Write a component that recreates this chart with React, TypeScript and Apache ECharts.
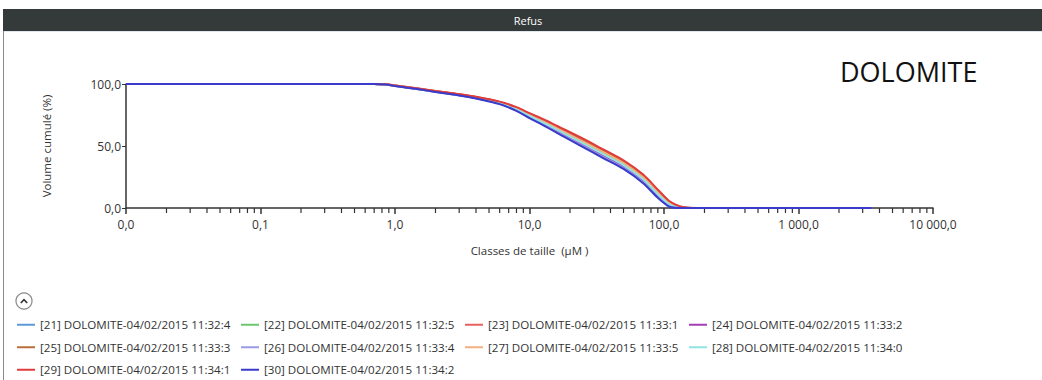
import React, { useEffect, useRef } from "react";
import * as echarts from "echarts";

const sizes = [0.01, 0.7, 0.85, 1, 1.5, 2, 3, 4, 6, 8, 10, 13, 18, 25, 35, 50, 70, 90, 110, 130, 150, 180, 3500];

const seriesNames = [
  "[21] DOLOMITE-04/02/2015 11:32:4",
  "[22] DOLOMITE-04/02/2015 11:32:5",
  "[23] DOLOMITE-04/02/2015 11:33:1",
  "[24] DOLOMITE-04/02/2015 11:33:2",
  "[25] DOLOMITE-04/02/2015 11:33:3",
  "[26] DOLOMITE-04/02/2015 11:33:4",
  "[27] DOLOMITE-04/02/2015 11:33:5",
  "[28] DOLOMITE-04/02/2015 11:34:0",
  "[29] DOLOMITE-04/02/2015 11:34:1",
  "[30] DOLOMITE-04/02/2015 11:34:2",
];

const seriesColors = ["#5b9bd5", "#6cc66c", "#e8625c", "#a53db5", "#b8703a", "#9a9ae8", "#f2b07e", "#93e3e3", "#e23b3b", "#3a3acb"];

const s21 = [100, 100, 99.5, 98.5, 95.8, 93.8, 91.0, 88.6, 84.2, 79.0, 73.4, 67.1, 58.8, 50.6, 42.1, 33.1, 21.6, 9.7, 2.0, 0.3, 0, 0, 0];
const s22 = [100, 100, 99.6, 98.6, 96.0, 94.0, 91.4, 89.1, 84.9, 80.0, 74.7, 68.8, 60.8, 52.9, 44.4, 35.4, 23.9, 11.9, 3.5, 0.8, 0.1, 0, 0];
const s23 = [100, 100, 99.7, 98.8, 96.2, 94.3, 91.7, 89.5, 85.6, 81.0, 76.1, 70.4, 62.8, 55.1, 46.7, 37.7, 26.2, 14.0, 4.9, 1.3, 0.2, 0.1, 0];
const s24 = [100, 100, 99.6, 98.5, 95.9, 93.9, 91.1, 88.8, 84.5, 79.3, 73.8, 67.7, 59.5, 51.4, 42.8, 33.8, 22.3, 10.4, 2.5, 0.4, 0, 0, 0];
const s25 = [100, 100, 99.7, 98.7, 96.2, 94.2, 91.6, 89.4, 85.4, 80.6, 75.6, 69.9, 62.2, 54.4, 45.9, 36.9, 25.4, 13.3, 4.4, 1.1, 0.2, 0, 0];
const s26 = [100, 100, 99.5, 98.4, 95.8, 93.7, 90.9, 88.5, 84.0, 78.6, 72.9, 66.6, 58.2, 49.9, 41.3, 32.3, 20.8, 9.0, 1.5, 0.1, 0, 0, 0];
const s27 = [100, 100, 99.6, 98.7, 96.1, 94.1, 91.5, 89.2, 85.1, 80.3, 75.2, 69.3, 61.5, 53.6, 45.2, 36.2, 24.7, 12.6, 3.9, 1.0, 0.1, 0, 0];
const s28 = [100, 100, 99.6, 98.6, 96.0, 94.0, 91.2, 88.9, 84.7, 79.6, 74.3, 68.2, 60.2, 52.1, 43.6, 34.6, 23.1, 11.1, 3.0, 0.6, 0.1, 0, 0];
const s29 = [100, 100, 99.7, 98.8, 96.3, 94.4, 91.8, 89.7, 85.8, 81.3, 76.5, 71.0, 63.5, 55.9, 47.5, 38.5, 27.0, 14.8, 5.4, 1.5, 0.3, 0.1, 0];
const s30 = [100, 100, 99.5, 98.4, 95.7, 93.6, 90.8, 88.3, 83.8, 78.3, 72.5, 66.0, 57.5, 49.1, 40.5, 31.5, 20.0, 8.2, 1.0, 0.0, 0, 0, 0];

const seriesValues = [s21, s22, s23, s24, s25, s26, s27, s28, s29, s30];

const minorTicks = [
  0.02, 0.03, 0.04, 0.05, 0.06, 0.07, 0.08, 0.09,
  0.2, 0.3, 0.4, 0.5, 0.6, 0.7, 0.8, 0.9,
  2, 3, 4, 5, 6, 7, 8, 9,
  20, 30, 40, 50, 60, 70, 80, 90,
  200, 300, 400, 500, 600, 700, 800, 900,
  2000, 3000, 4000, 5000, 6000, 7000, 8000, 9000,
];

const FONT = "'Open Sans', 'Noto Sans', sans-serif";

function fmt(v: number): string {
  const s = Number(v).toFixed(1);
  const [ip, dp] = s.split(".");
  const grouped = ip.replace(/\B(?=(\d{3})+(?!\d))/g, " ");
  return grouped + "," + dp;
}

export default function App() {
  const ref = useRef<HTMLDivElement>(null);
  useEffect(() => {
    if (!ref.current) return;
    const chart = echarts.init(ref.current, undefined, { renderer: "svg" });
    const lineSeries = seriesNames.map((name, i) => ({
      name,
      type: "line",
      data: sizes.map((x, j) => [x, seriesValues[i][j]]),
      showSymbol: false,
      symbol: "none",
      smooth: 0.3,
      lineStyle: { width: 2, color: seriesColors[i] },
      itemStyle: { color: seriesColors[i] },
      z: 3,
    }));
    const option: any = {
      animation: false,
      backgroundColor: "#ffffff",
      grid: { left: 126, right: 109, top: 84, bottom: 172 },
      xAxis: {
        type: "log",
        logBase: 10,
        min: 0.01,
        max: 10000,
        name: "Classes de taille  (µM )",
        nameLocation: "middle",
        nameGap: 36,
        nameTextStyle: { fontFamily: FONT, fontSize: 11.5, color: "#333" },
        axisLine: { lineStyle: { color: "#333", width: 1.5 } },
        axisTick: { show: true, length: 6, lineStyle: { color: "#333", width: 1.5 } },
        minorTick: { show: false },
        axisLabel: { formatter: (v: number) => fmt(v), fontFamily: FONT, fontSize: 12, color: "#333", margin: 10 },
        splitLine: { show: false },
      },
      yAxis: {
        type: "value",
        min: 0,
        max: 100,
        interval: 50,
        name: "Volume cumulé (%)",
        nameLocation: "middle",
        nameGap: 74,
        nameTextStyle: { fontFamily: FONT, fontSize: 11.5, color: "#333" },
        axisLine: { show: true, lineStyle: { color: "#333", width: 1.5 } },
        axisTick: { show: true, length: 4, lineStyle: { color: "#333", width: 1 } },
        axisLabel: { formatter: (v: number) => fmt(v), fontFamily: FONT, fontSize: 12, color: "#333", margin: 5 },
        splitLine: { show: false },
      },
      legend: {
        data: seriesNames,
        orient: "horizontal",
        left: 17,
        top: 316,
        width: 920,
        itemWidth: 18,
        itemHeight: 2,
        itemGap: 5,
        icon: "rect",
        selectedMode: false,
        padding: 0,
        textStyle: {
          fontFamily: FONT,
          fontSize: 11.6,
          color: "#333",
          width: 196,
          overflow: "truncate",
          ellipsis: "",
          lineHeight: 17.5,
        },
      },
      graphic: [
        { type: "rect", left: 3, top: 9, shape: { width: 1039, height: 22 }, style: { fill: "#343939" }, z: 10 },
        { type: "line", shape: { x1: 3, y1: 31.5, x2: 1042, y2: 31.5 }, style: { stroke: "#dfe8ef", lineWidth: 1 }, z: 10 },
        { type: "text", x: 528, y: 20, style: { text: "Refus", fill: "#ffffff", font: `11px ${FONT}`, textAlign: "center", textVerticalAlign: "middle" }, z: 11 },
        { type: "line", shape: { x1: 3.5, y1: 31, x2: 3.5, y2: 380 }, style: { stroke: "#8a8a8a", lineWidth: 1 }, z: 10 },
        { type: "text", x: 840, y: 71, style: { text: "DOLOMITE", fill: "#111", font: `27px ${FONT}`, textAlign: "left", textVerticalAlign: "middle" }, z: 10 },
        { type: "circle", shape: { cx: 24, cy: 301, r: 8 }, style: { fill: "#fff", stroke: "#888", lineWidth: 1.2 }, z: 10 },
        { type: "polyline", shape: { points: [[20.8, 303], [24, 299.6], [27.2, 303]] }, style: { stroke: "#333", lineWidth: 1.6, fill: null }, z: 11 },
      ],
      series: [
        ...lineSeries,
        {
          type: "custom",
          name: "minorTicks",
          silent: true,
          clip: false,
          data: minorTicks.map((v) => [v, 0]),
          renderItem: (params: any, api: any) => {
            const p = api.coord([api.value(0), 0]);
            return {
              type: "line",
              shape: { x1: p[0], y1: p[1], x2: p[0], y2: p[1] + 5 },
              style: { stroke: "#333", lineWidth: 1.2 },
            };
          },
          z: 2,
        },
      ],
    };
    chart.setOption(option);
    return () => chart.dispose();
  }, []);
  return <div ref={ref} style={{ position: "fixed", left: 0, top: 0, width: 1042, height: 380 }} />;
}
